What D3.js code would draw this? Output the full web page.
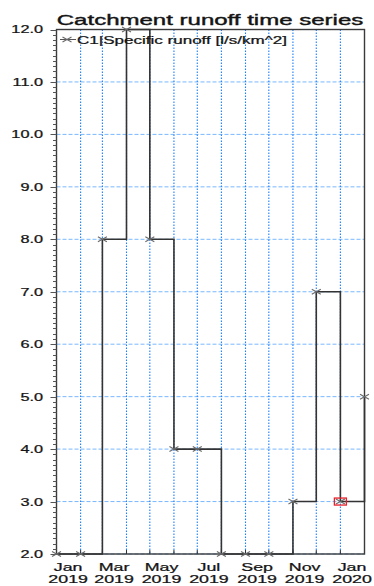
<!DOCTYPE html>
<html>
<head>
<meta charset="utf-8">
<script src="https://cdn.jsdelivr.net/npm/d3@7"></script>
<style>
body { margin: 0; background: #fff; }
text { font-family: "Liberation Sans", Arial, sans-serif; fill: #141414; stroke: #141414; stroke-width: 0.25; }
</style>
</head>
<body>
<svg width="374" height="586"></svg>
<script>
// monthly values, step-after
var months = ["2019-01-01","2019-02-01","2019-03-01","2019-04-01","2019-05-01","2019-06-01","2019-07-01",
              "2019-08-01","2019-09-01","2019-10-01","2019-11-01","2019-12-01","2020-01-01","2020-02-01"];
var runoff = [2, 2, 8, 12, 8, 4, 4, 2, 2, 2, 3, 7, 3, 5];
var yTicks = [2, 3, 4, 5, 6, 7, 8, 9, 10, 11, 12];
var labelDates = ["2019-01-16","2019-03-16","2019-05-16","2019-07-16","2019-09-16","2019-11-16","2020-01-16"];
var highlighted = "2020-01-01";
var title = "Catchment runoff time series";
var seriesName = "C1|Specific runoff [l/s/km^2]";

var parse = d3.timeParse("%Y-%m-%d");
var data = months.map((m, i) => ({date: parse(m), value: runoff[i]}));

var svg = d3.select("svg");
// note: "top" is taken by window.top, so plot edges get a prefix
var pLeft = 56.5, pRight = 364.5, pTop = 29.5, pBottom = 554;
var sx = 1.55; // the picture is stretched sideways, text too

var x = d3.scaleTime()
    .domain([parse("2019-01-01"), parse("2020-02-01")])
    .range([pLeft, pRight]);
var y = d3.scaleLinear().domain([2, 12]).range([pBottom, pTop]);

function wide(sel, fx, fy) {
  sel.attr("transform", (d, i) => "translate(" + fx(d, i) + "," + fy(d, i) + ") scale(" + sx + ",1)");
}

// grid
svg.append("g").selectAll("line")
  .data(yTicks)
  .enter().append("line")
    .attr("x1", pLeft).attr("x2", pRight)
    .attr("y1", d => y(d)).attr("y2", d => y(d))
    .attr("stroke", "#7ab8ff")
    .attr("stroke-width", 1)
    .attr("stroke-dasharray", "4,2");

var monthTicks = d3.timeMonth.range(parse("2019-02-01"), parse("2020-02-01"));
svg.append("g").selectAll("line")
  .data(monthTicks)
  .enter().append("line")
    .attr("x1", d => x(d)).attr("x2", d => x(d))
    .attr("y1", pTop).attr("y2", pBottom)
    .attr("stroke", "#1a7fff")
    .attr("stroke-width", 1.1)
    .attr("stroke-dasharray", "1.4,1.6");

// frame
svg.append("rect")
  .attr("x", pLeft).attr("y", pTop)
  .attr("width", pRight - pLeft).attr("height", pBottom - pTop)
  .attr("fill", "none")
  .attr("stroke", "#3a3a3a")
  .attr("stroke-width", 1.4);

// y ticks
svg.append("g").selectAll("line")
  .data(d3.range(20, 121).map(v => v / 10))
  .enter().append("line")
    .attr("x1", d => pLeft - (Number.isInteger(d) ? 6 : 3.5)).attr("x2", pLeft)
    .attr("y1", d => Math.round(y(d)) + 0.5).attr("y2", d => Math.round(y(d)) + 0.5)
    .attr("stroke", "#555")
    .attr("stroke-width", 1);

svg.append("g").selectAll("text")
  .data(yTicks)
  .enter().append("text")
    .attr("text-anchor", "end")
    .attr("dominant-baseline", "central")
    .attr("font-size", 10.5)
    .text(d => d.toFixed(1))
    .call(wide, () => 43, d => y(d) + 0.5);

// x ticks (inward)
svg.append("g").selectAll("line")
  .data(monthTicks)
  .enter().append("line")
    .attr("x1", d => x(d)).attr("x2", d => x(d))
    .attr("y1", pBottom).attr("y2", pBottom - 4)
    .attr("stroke", "#333");

var xl = svg.append("g").selectAll("g")
  .data(labelDates.map(parse))
  .enter().append("g");
xl.append("text")
    .attr("text-anchor", "middle")
    .attr("font-size", 11.5)
    .text(d3.timeFormat("%b"))
    .call(wide, d => x(d), () => 571);
xl.append("text")
    .attr("text-anchor", "middle")
    .attr("font-size", 11.5)
    .text(d3.timeFormat("%Y"))
    .call(wide, d => x(d), () => 583);

// series
var line = d3.line()
    .curve(d3.curveStepAfter)
    .x(d => x(d.date))
    .y(d => y(d.value));

svg.append("path")
  .datum(data)
  .attr("d", line)
  .attr("fill", "none")
  .attr("stroke", "#333")
  .attr("stroke-width", 1.6);

var cross = "M-4.5,-2.5L4.5,2.5M-4.5,2.5L4.5,-2.5";
svg.append("g").selectAll("path")
  .data(data)
  .enter().append("path")
    .attr("d", cross)
    .attr("transform", d => "translate(" + x(d.date) + "," + y(d.value) + ")")
    .attr("fill", "none")
    .attr("stroke", "#6a6a6a")
    .attr("stroke-width", 1.1);

var hl = data.filter(d => +d.date === +parse(highlighted));
svg.append("g").selectAll("rect")
  .data(hl)
  .enter().append("rect")
    .attr("x", d => x(d.date) - 6).attr("y", d => y(d.value) - 3.5)
    .attr("width", 12).attr("height", 7)
    .attr("fill", "none")
    .attr("stroke", "#e8202a")
    .attr("stroke-width", 1.3);

// legend
var lg = svg.append("g").attr("transform", "translate(0,39.5)");
lg.append("line")
  .attr("x1", 60).attr("x2", 76)
  .attr("stroke", "#555").attr("stroke-width", 1);
lg.append("path")
  .attr("d", cross)
  .attr("transform", "translate(67,0)")
  .attr("fill", "none").attr("stroke", "#6a6a6a").attr("stroke-width", 1.1);
lg.append("text")
  .datum(seriesName)
  .attr("font-size", 11)
  .attr("dominant-baseline", "central")
  .text(d => d)
  .call(wide, () => 77, () => 0.5);

// title
svg.append("text")
  .datum(title)
  .attr("text-anchor", "middle")
  .attr("font-size", 15.5)
  .style("stroke-width", 0.4)
  .text(d => d)
  .call(wide, () => 210, () => 24.5);
</script>
</body>
</html>
